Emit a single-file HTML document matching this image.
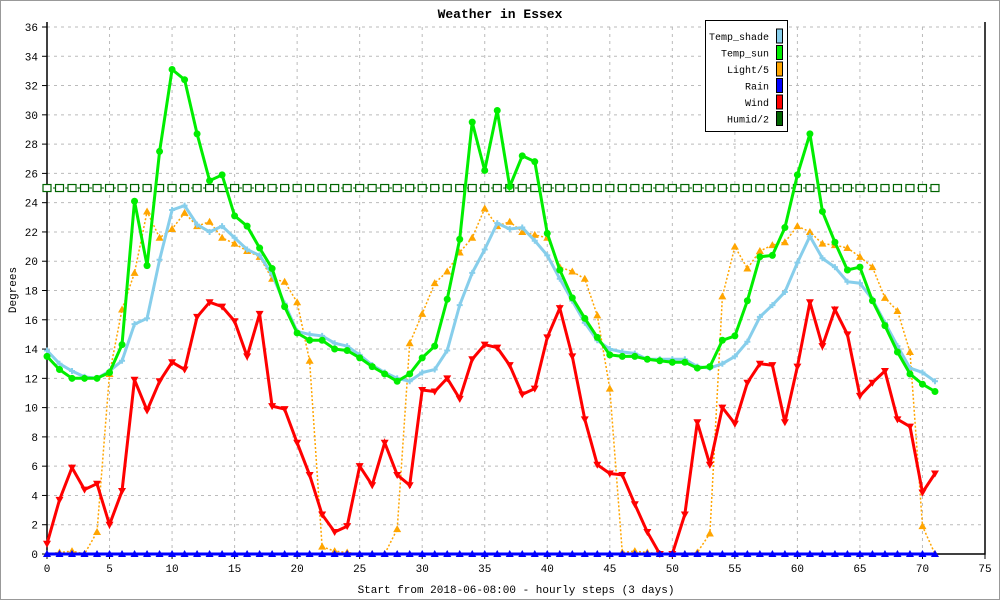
<!DOCTYPE html>
<html><head><meta charset="utf-8"><style>
html,body{margin:0;padding:0;background:#fff}
svg{display:block;font-family:"Liberation Mono","DejaVu Sans Mono",monospace}
</style></head><body>
<svg id="chart" width="1000" height="600" viewBox="0 0 1000 600" xmlns="http://www.w3.org/2000/svg">
<rect x="0.5" y="0.5" width="999" height="599" fill="#fff" stroke="#999"/>
<text x="500" y="18" text-anchor="middle" font-size="13" font-weight="bold">Weather in Essex</text>
<g id="grid"></g>
<g id="axes"></g>
<g id="series"></g>
<text x="516" y="593" text-anchor="middle" font-size="11">Start from 2018-06-08:00 - hourly steps (3 days)</text>
<text transform="translate(16,290) rotate(-90)" text-anchor="middle" font-size="11">Degrees</text>
<g id="legend"></g>
</svg>
<script>
const xTicks=[0,5,10,15,20,25,30,35,40,45,50,55,60,65,70,75];
const yTicks=[0,2,4,6,8,10,12,14,16,18,20,22,24,26,28,30,32,34,36];
const tempShade=[13.9,13.0,12.5,12.1,12.0,12.5,13.2,15.7,16.1,20.1,23.5,23.8,22.5,22.0,22.4,21.6,20.8,20.4,19.1,17.1,15.2,15.0,14.9,14.4,14.2,13.6,12.9,12.4,12.0,11.8,12.4,12.6,13.9,17.0,19.2,20.8,22.6,22.2,22.3,21.4,20.4,18.8,17.3,15.8,14.6,14.0,13.8,13.7,13.3,13.3,13.3,13.3,12.8,12.7,13.0,13.5,14.5,16.2,17.0,17.9,19.9,21.7,20.2,19.6,18.6,18.5,17.4,15.8,14.2,12.7,12.4,11.8];
const tempSun=[13.5,12.6,12.0,12.0,12.0,12.4,14.3,24.1,19.7,27.5,33.1,32.4,28.7,25.5,25.9,23.1,22.4,20.9,19.5,16.9,15.1,14.6,14.6,14.0,13.9,13.4,12.8,12.3,11.8,12.3,13.4,14.2,17.4,21.5,29.5,26.2,30.3,25.1,27.2,26.8,21.9,19.4,17.5,16.1,14.8,13.6,13.5,13.5,13.3,13.2,13.1,13.1,12.7,12.8,14.6,14.9,17.3,20.3,20.4,22.3,25.9,28.7,23.4,21.3,19.4,19.6,17.3,15.6,13.8,12.3,11.6,11.1];
const light5=[0,0.1,0.2,0,1.5,12.3,16.7,19.2,23.4,21.6,22.2,23.3,22.4,22.7,21.6,21.2,20.7,20.3,18.8,18.6,17.2,13.2,0.5,0.2,0.1,0,0,0,1.7,14.4,16.4,18.5,19.3,20.6,21.6,23.6,22.4,22.7,22.0,21.8,21.6,19.6,19.3,18.8,16.3,11.3,0.1,0.2,0.1,0,0,0,0.1,1.4,17.6,21.0,19.5,20.7,21.1,21.3,22.4,22.0,21.2,21.1,20.9,20.3,19.6,17.5,16.6,13.8,1.9,0];
const rain=new Array(72).fill(0);
const wind=[0.7,3.7,5.9,4.4,4.8,2.0,4.3,11.9,9.8,11.8,13.1,12.6,16.2,17.2,16.9,15.9,13.5,16.4,10.1,9.9,7.6,5.4,2.7,1.5,1.9,6.0,4.7,7.6,5.4,4.7,11.2,11.1,12.0,10.6,13.3,14.3,14.1,12.9,10.9,11.3,14.8,16.8,13.5,9.2,6.1,5.5,5.4,3.4,1.5,0,0,2.7,9.0,6.1,10.0,8.9,11.7,13.0,12.9,9.0,12.8,17.2,14.2,16.7,15.0,10.8,11.7,12.5,9.2,8.7,4.2,5.5];
const humid2=new Array(72).fill(25);
const legendLabels=["Temp_shade","Temp_sun","Light/5","Rain","Wind","Humid/2"];

const NS="http://www.w3.org/2000/svg";
const X0=47,X1=985,Y0=554,Y1=27;
const xs=v=>X0+(X1-X0)*v/75;
const ys=v=>Y0-(Y0-Y1)*v/36;
function el(tag,attrs,parent){const e=document.createElementNS(NS,tag);for(const k in attrs)e.setAttribute(k,attrs[k]);parent.appendChild(e);return e;}
const grid=document.getElementById('grid'),axes=document.getElementById('axes'),ser=document.getElementById('series'),leg=document.getElementById('legend');
yTicks.forEach(t=>{
  if(t>0){const g=el('line',{x1:X0,x2:X1,y1:ys(t),y2:ys(t),stroke:'#bbb','stroke-dasharray':'3,4'},grid);
  
  }
  const tk=el('line',{x1:X0-5,x2:X0,y1:ys(t),y2:ys(t),stroke:'#000'},axes);
  
  
  const l=el('text',{x:X0-9,y:ys(t)+4,'text-anchor':'end','font-size':11},axes);l.textContent=t;
  
  
});
xTicks.forEach(t=>{
  if(t>0&&t<75){const g=el('line',{x1:xs(t),x2:xs(t),y1:Y1,y2:Y0,stroke:'#bbb','stroke-dasharray':'3,4'},grid);
  
  }
  const tk=el('line',{x1:xs(t),x2:xs(t),y1:Y0,y2:Y0+5,stroke:'#000'},axes);
  
  
  const l=el('text',{x:xs(t),y:Y0+18,'text-anchor':'middle','font-size':11},axes);l.textContent=t;
  
  
});
const ax=el('path',{d:`M${X0},${Y1-5}V${Y0}H${X1}V${Y1-5}`,fill:'none',stroke:'#000','stroke-width':1.5},axes);



function series(data,color,width,dash,marker,name){
  const g=el('g',{},ser);
  
  
  const d=data.map((v,i)=>(i?'L':'M')+xs(i).toFixed(1)+','+ys(v).toFixed(1)).join('');
  el('path',{d:d,fill:'none',stroke:color,'stroke-width':width,'stroke-dasharray':dash||'none'},g);
  data.forEach((v,i)=>{
    const x=xs(i),y=ys(v);let m;
    if(marker==='circle')m=el('circle',{cx:x,cy:y,r:3.5,fill:color},g);
    else if(marker==='up')m=el('path',{d:`M${x},${y-4}L${x+4},${y+3}L${x-4},${y+3}Z`,fill:color},g);
    else if(marker==='down')m=el('path',{d:`M${x},${y+4}L${x+4},${y-3}L${x-4},${y-3}Z`,fill:color},g);
    else if(marker==='star')m=el('path',{d:`M${x-3},${y}H${x+3}M${x},${y-3}V${y+3}`,stroke:color,'stroke-width':2},g);
    else if(marker==='square')m=el('rect',{x:x-4,y:y-3.5,width:8,height:7,fill:'#fff',stroke:color,'stroke-width':1.2},g);
    
    
  });
}
series(humid2,'#006400',1,'3,3','square','humid2-series');
series(light5,'#ffa500',1.5,'2,2','up','light5-series');
series(tempShade,'#87ceeb',3,null,'star','temp-shade-series');
series(tempSun,'#00ee00',3,null,'circle','temp-sun-series');
series(wind,'#ff0000',3,null,'down','wind-series');
series(rain,'#0000ff',3,null,'up','rain-series');

const legColors=['#87ceeb','#00ee00','#ffa500','#0000ff','#ff0000','#006400'];
const lb=el('rect',{x:705.5,y:20.5,width:82,height:111,fill:'#fff',stroke:'#000'},leg);


legendLabels.forEach((lab,i)=>{
  const y=36+i*16.5;
  const t=el('text',{x:769,y:y+4,'text-anchor':'end','font-size':10},leg);t.textContent=lab;
  
  
  const s=el('rect',{x:776.5,y:y-7,width:6,height:14,fill:legColors[i],stroke:'#000'},leg);
  
  
});
</script>
</body></html>
